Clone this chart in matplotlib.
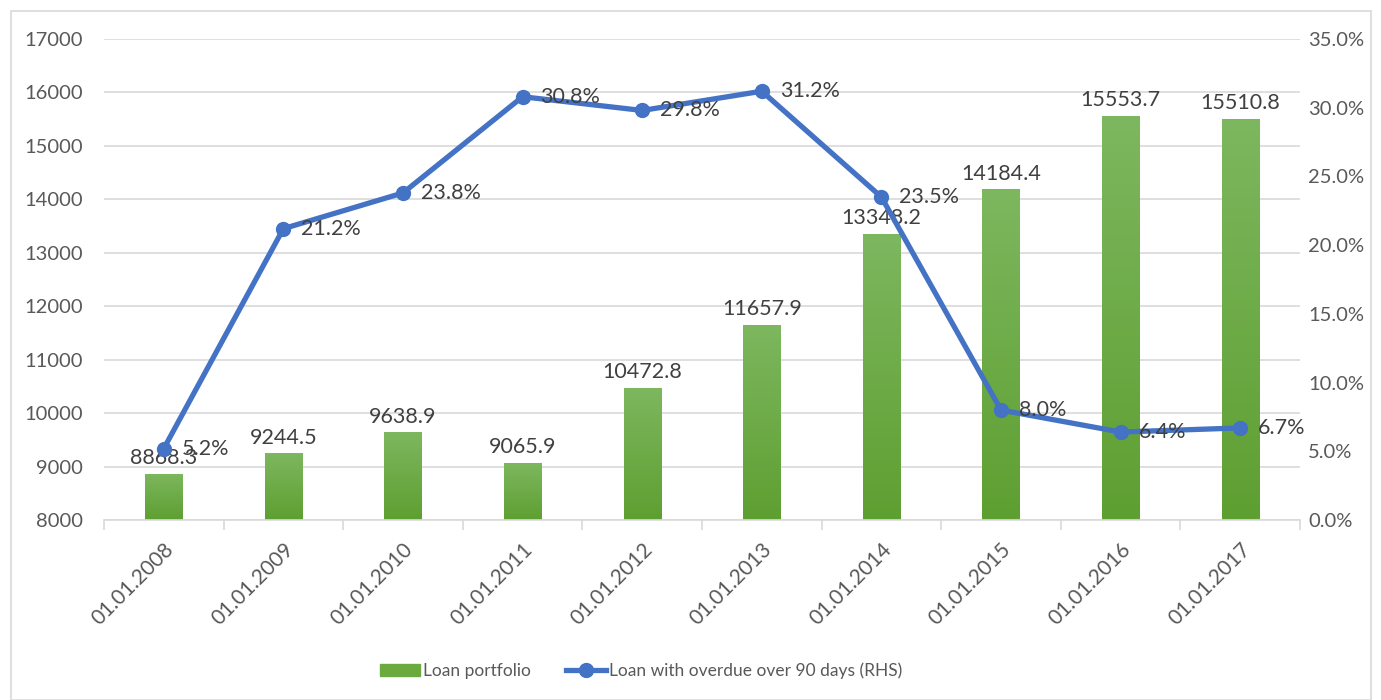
import numpy as np
import matplotlib.pyplot as plt
from matplotlib.patches import Rectangle
from matplotlib.ticker import FuncFormatter, MultipleLocator
from matplotlib.colors import LinearSegmentedColormap

dates = ["01.01.2008", "01.01.2009", "01.01.2010", "01.01.2011", "01.01.2012",
         "01.01.2013", "01.01.2014", "01.01.2015", "01.01.2016", "01.01.2017"]
loan_portfolio = [8868.3, 9244.5, 9638.9, 9065.9, 10472.8,
                  11657.9, 13348.2, 14184.4, 15553.7, 15510.8]
overdue_pct = [5.2, 21.2, 23.8, 30.8, 29.8, 31.2, 23.5, 8.0, 6.4, 6.7]

plt.rcParams['font.family'] = ['Lato', 'DejaVu Sans']
text_col = "#595959"
label_col = "#404040"
blue = "#4472C4"

fig = plt.figure(figsize=(13.81, 7.0), dpi=100)
ax1 = fig.add_axes([104 / 1381, 1 - 520 / 700, (1300 - 104) / 1381, (520 - 39) / 700])

x = np.arange(len(dates))
bars = ax1.bar(x, loan_portfolio, width=0.31, color="#6AAA3E", zorder=2)

# gradient fill on bars (light top, darker bottom)
grad = np.linspace(0, 1, 256).reshape(-1, 1)
cmap = LinearSegmentedColormap.from_list("g", ["#5E9F31", "#7DB75F"])
for b in bars:
    x0, y0, w, h = b.get_x(), b.get_y(), b.get_width(), b.get_height()
    im = ax1.imshow(grad, cmap=cmap, aspect="auto", origin="lower",
                    extent=[x0, x0 + w, 8000, y0 + h], zorder=2.1)
    im.set_clip_path(b)

for xi, v in zip(x, loan_portfolio):
    ax1.text(xi, v + 110, f"{v:.1f}", ha="center", va="bottom",
             fontsize=15.5, color=label_col, zorder=5)

ax1.set_xlim(-0.5, len(dates) - 0.5)
ax1.set_ylim(8000, 17000)
ax1.yaxis.set_major_locator(MultipleLocator(1000))
ax1.grid(axis="y", color="#D9D9D9", linewidth=1.2, zorder=0)
ax1.set_axisbelow(True)
for s in ["top", "right", "left"]:
    ax1.spines[s].set_visible(False)
ax1.spines["bottom"].set_color("#D9D9D9")
ax1.spines["bottom"].set_linewidth(1.2)
ax1.tick_params(axis="y", length=0, labelsize=14.5, labelcolor=text_col, pad=15)

ax1.set_xticks(x)
ax1.set_xticklabels(dates, rotation=45, ha="right", rotation_mode="anchor",
                    fontsize=15, color=text_col)
ax1.tick_params(axis="x", length=0, pad=14)
ax1.set_xticks(np.arange(-0.5, len(dates)), minor=True)
ax1.tick_params(axis="x", which="minor", length=7, color="#D9D9D9", width=1.2)

ax2 = ax1.twinx()
ax2.plot(x, overdue_pct, color=blue, linewidth=3.8, marker="o", markersize=10,
         zorder=4, label="Loan with overdue over 90 days (RHS)")
for xi, v in zip(x, overdue_pct):
    ax2.text(xi + 0.15, v, f"{v:.1f}%", ha="left", va="center",
             fontsize=15.5, color=label_col, zorder=6)
ax2.set_ylim(0, 35)
ax2.yaxis.set_major_locator(MultipleLocator(5))
ax2.yaxis.set_major_formatter(FuncFormatter(lambda v, p: f"{v:.1f}%"))
ax2.tick_params(axis="y", length=0, labelsize=14.5, labelcolor=text_col, pad=6)
for s in ["top", "right", "left", "bottom"]:
    ax2.spines[s].set_visible(False)

# legend
handles = [Rectangle((0, 0), 1, 1, color="#6AAA3E"), ax2.get_lines()[0]]
fig.legend(handles, ["Loan portfolio", "Loan with overdue over 90 days (RHS)"],
           loc="center", bbox_to_anchor=(641 / 1381, 1 - 671 / 700), ncol=2,
           frameon=False, fontsize=12.5, labelcolor=text_col, handlelength=2.3,
           handletextpad=0.2, columnspacing=2.0)

# outer border
fig.patches.append(Rectangle((11 / 1381, 0 / 700), (1371 - 11) / 1381, (689 - 0) / 700,
                             transform=fig.transFigure, fill=False,
                             edgecolor="#D9D9D9", linewidth=1.2))

fig.savefig("out.png", dpi=100)
